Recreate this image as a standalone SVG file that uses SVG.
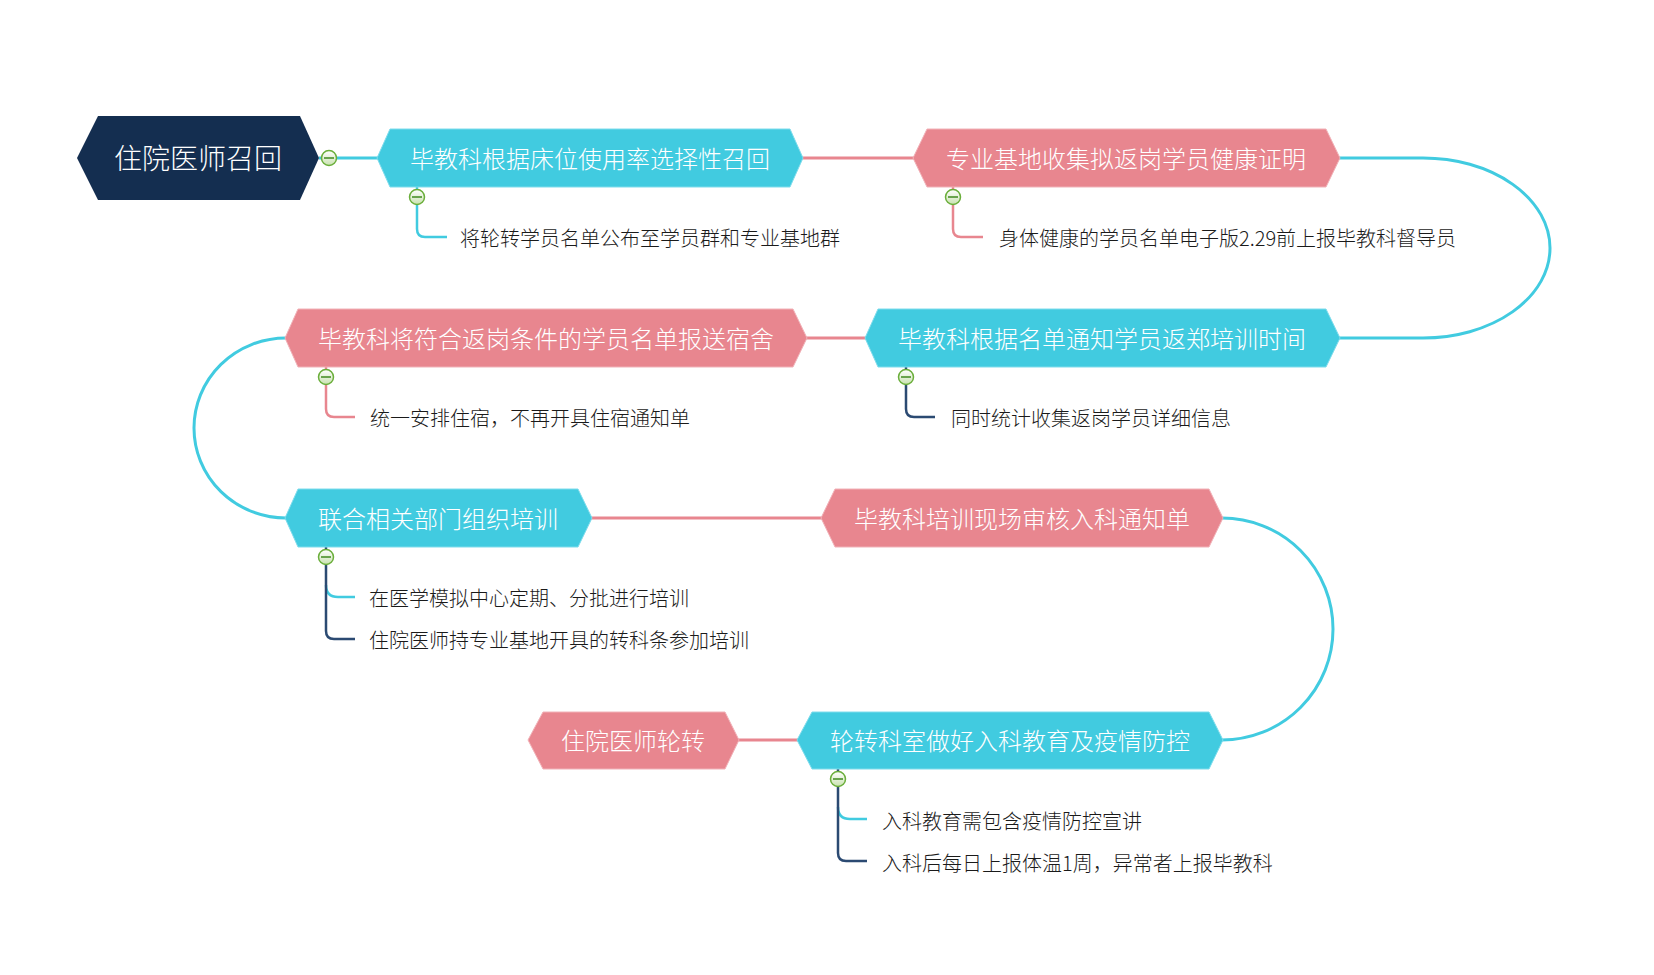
<svg xmlns="http://www.w3.org/2000/svg" width="1654" height="975" viewBox="0 0 1654 975">
<defs>
<linearGradient id="cg" x1="0" y1="0" x2="0" y2="1">
<stop offset="0" stop-color="#ffffff"/>
<stop offset="1" stop-color="#c9e2b0"/>
</linearGradient>
<style>
.bg{fill:#ffffff}
.blue{fill:#41cbe0;stroke:#7fdcec;stroke-width:1}
.pink{fill:#e8868f;stroke:#f1b2b8;stroke-width:1}
.navy{fill:#142e50}
.nt{font-family:"Noto Sans CJK SC","Noto Sans",sans-serif;font-size:24px;font-weight:300;fill:#ffffff;text-anchor:middle;dominant-baseline:central}
.rt{font-family:"Noto Sans CJK SC","Noto Sans",sans-serif;font-size:28px;font-weight:300;fill:#ffffff;text-anchor:middle;dominant-baseline:central}
.st{font-family:"Noto Sans CJK SC","Noto Sans",sans-serif;font-size:20px;font-weight:300;fill:#1a1a1a;dominant-baseline:central}
.lc{fill:none;stroke:#41cbe0;stroke-width:3}
.lp{fill:none;stroke:#e8868f;stroke-width:3}
.sc{fill:none;stroke:#41cbe0;stroke-width:2.5}
.sp{fill:none;stroke:#e8868f;stroke-width:2.5}
.sn{fill:none;stroke:#2b4a72;stroke-width:2.5}
.cc{fill:url(#cg);stroke:#6aae3a;stroke-width:1.5}
.cm{stroke:#3f8a1e;stroke-width:1.5}
</style>
</defs>
<rect class="bg" x="0" y="0" width="1654" height="975"/>

<g id="connectors">
<line class="lc" x1="319" y1="158" x2="378" y2="158"/>
<line class="lp" x1="802" y1="158" x2="914" y2="158"/>
<path class="lc" d="M1339,158 H1423 A127,90 0 0 1 1423,338 H1339"/>
<line class="lp" x1="806" y1="338" x2="866" y2="338"/>
<path class="lc" d="M286,338 A92,90 0 0 0 286,518"/>
<line class="lp" x1="591" y1="518" x2="822" y2="518"/>
<path class="lc" d="M1222,518 A111,111 0 0 1 1222,740"/>
<line class="lp" x1="738" y1="740" x2="798" y2="740"/>

<path class="sc" d="M417,187 V229 Q417,237 425,237 H447"/>
<path class="sp" d="M953,187 V229 Q953,237 961,237 H983"/>
<path class="sp" d="M326,367 V409 Q326,417 334,417 H355"/>
<path class="sn" d="M906,367 V409 Q906,417 914,417 H935"/>
<path class="sc" d="M326,585 Q326,597 338,597 H355"/>
<path class="sn" d="M326,547 V631 Q326,639 334,639 H355"/>
<path class="sc" d="M838,807 Q838,819 850,819 H867"/>
<path class="sn" d="M838,769 V853 Q838,861 846,861 H867"/>
</g>

<g id="root">
<polygon class="navy" points="77,158 98,116 300,116 319,158 300,200 98,200"/>
<text class="rt" x="198" y="157">住院医师召回</text>
</g>

<g id="n1">
<polygon class="blue" points="377,158 390,129 790,129 803,158 790,187 390,187"/>
<text class="nt" x="590" y="157">毕教科根据床位使用率选择性召回</text>
</g>
<g id="n1s">
<text class="st" x="460" y="237">将轮转学员名单公布至学员群和专业基地群</text>
</g>

<g id="n2">
<polygon class="pink" points="913,158 927,129 1326,129 1340,158 1326,187 927,187"/>
<text class="nt" x="1126" y="157">专业基地收集拟返岗学员健康证明</text>
</g>
<g id="n2s">
<text class="st" x="999" y="237">身体健康的学员名单电子版2.29前上报毕教科督导员</text>
</g>

<g id="n3">
<polygon class="blue" points="865,338 878,309 1326,309 1340,338 1326,367 878,367"/>
<text class="nt" x="1102" y="337">毕教科根据名单通知学员返郑培训时间</text>
</g>
<g id="n3s">
<text class="st" x="951" y="417">同时统计收集返岗学员详细信息</text>
</g>

<g id="n4">
<polygon class="pink" points="285,338 298,309 793,309 807,338 793,367 298,367"/>
<text class="nt" x="546" y="337">毕教科将符合返岗条件的学员名单报送宿舍</text>
</g>
<g id="n4s">
<text class="st" x="370" y="417">统一安排住宿，不再开具住宿通知单</text>
</g>

<g id="n5">
<polygon class="blue" points="285,518 298,489 578,489 592,518 578,547 298,547"/>
<text class="nt" x="438" y="517">联合相关部门组织培训</text>
</g>
<g id="n5s">
<text class="st" x="369" y="597">在医学模拟中心定期、分批进行培训</text>
<text class="st" x="369" y="639">住院医师持专业基地开具的转科条参加培训</text>
</g>

<g id="n6">
<polygon class="pink" points="821,518 835,489 1209,489 1223,518 1209,547 835,547"/>
<text class="nt" x="1022" y="517">毕教科培训现场审核入科通知单</text>
</g>

<g id="n7">
<polygon class="blue" points="797,740 812,712 1209,712 1223,740 1209,769 812,769"/>
<text class="nt" x="1010" y="739">轮转科室做好入科教育及疫情防控</text>
</g>
<g id="n7s">
<text class="st" x="882" y="820">入科教育需包含疫情防控宣讲</text>
<text class="st" x="882" y="862">入科后每日上报体温1周，异常者上报毕教科</text>
</g>

<g id="n8">
<polygon class="pink" points="528,740 543,712 725,712 739,740 725,769 543,769"/>
<text class="nt" x="633" y="739">住院医师轮转</text>
</g>

<g id="toggles">
<circle class="cc" cx="329" cy="158" r="7.5"/><line class="cm" x1="324" y1="158" x2="334" y2="158"/>
<circle class="cc" cx="417" cy="197" r="7.5"/><line class="cm" x1="412" y1="197" x2="422" y2="197"/>
<circle class="cc" cx="953" cy="197" r="7.5"/><line class="cm" x1="948" y1="197" x2="958" y2="197"/>
<circle class="cc" cx="326" cy="377" r="7.5"/><line class="cm" x1="321" y1="377" x2="331" y2="377"/>
<circle class="cc" cx="906" cy="377" r="7.5"/><line class="cm" x1="901" y1="377" x2="911" y2="377"/>
<circle class="cc" cx="326" cy="557" r="7.5"/><line class="cm" x1="321" y1="557" x2="331" y2="557"/>
<circle class="cc" cx="838" cy="779" r="7.5"/><line class="cm" x1="833" y1="779" x2="843" y2="779"/>
</g>
</svg>
